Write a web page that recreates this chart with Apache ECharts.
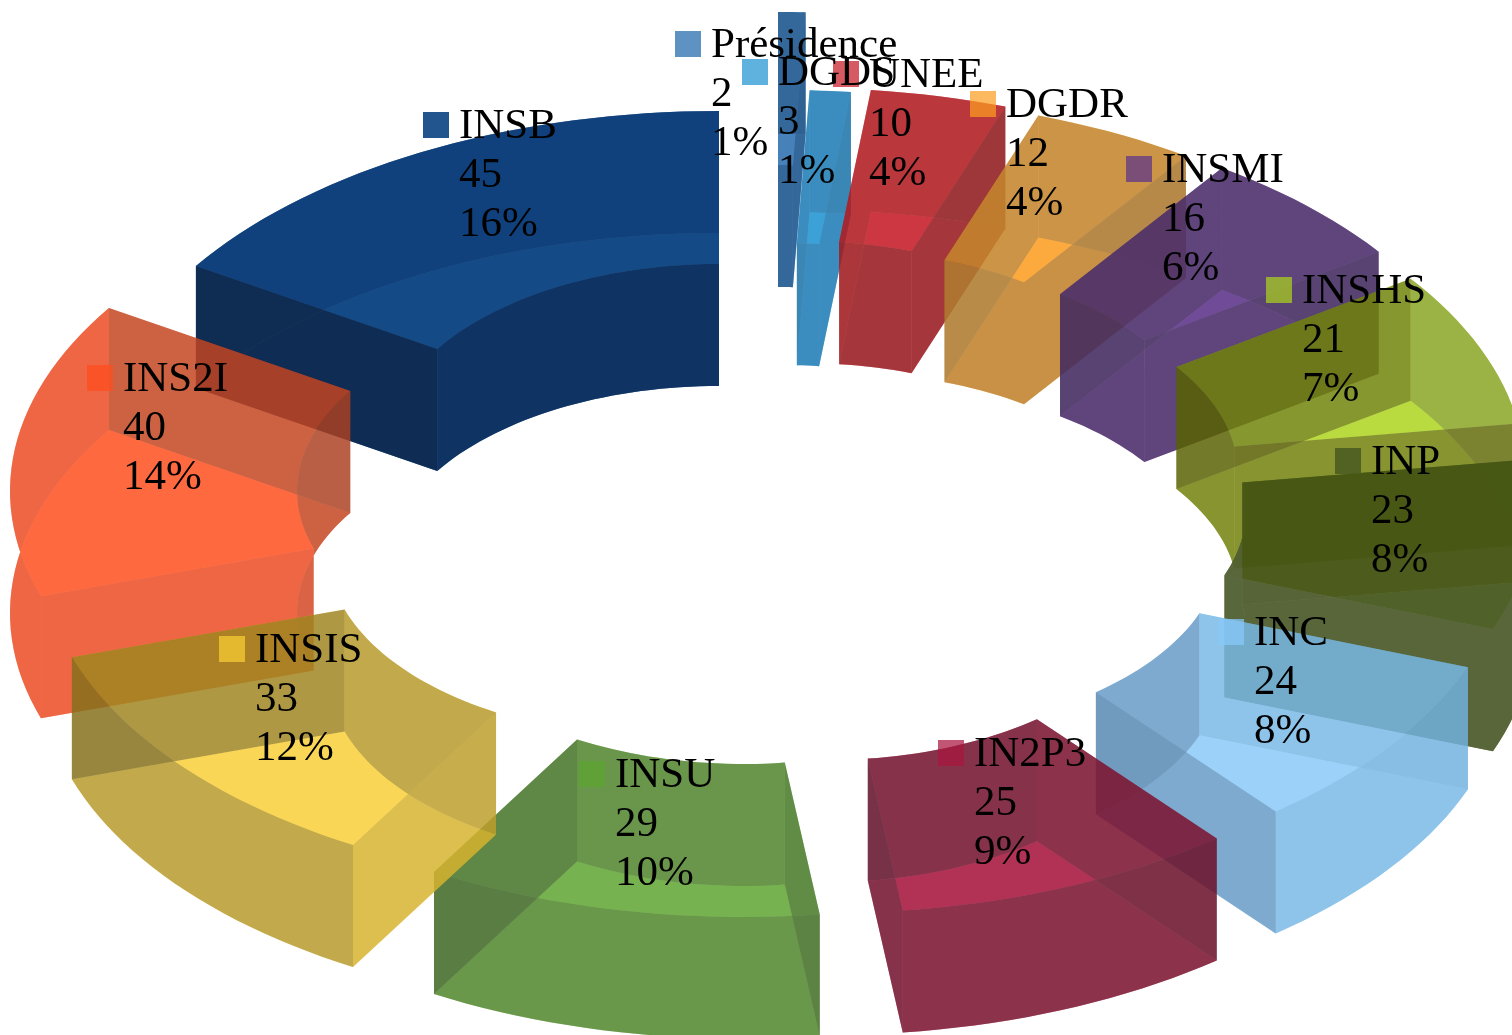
<!DOCTYPE html>
<html><head><meta charset="utf-8">
<style>html,body{margin:0;padding:0;background:#fff}#c{width:1512px;height:1035px}</style>
<script src="https://cdn.jsdelivr.net/npm/echarts@6/dist/echarts.min.js"></script>
</head><body><div id="c"></div>
<script>
const categories = ['Présidence','DGDS','UNEE','DGDR','INSMI','INSHS','INP','INC','IN2P3','INSU','INSIS','INS2I','INSB'];
const values = [2,3,10,12,16,21,23,24,25,29,33,40,45];

// appearance of each slice
const brightColors = [[70,130,185],[60,160,215],[205,55,65],[252,170,62],[112,76,152],[185,218,65],[80,98,42],[155,210,250],[178,50,85],[117,178,80],[250,215,85],[255,105,65],[20,75,135]];
const innerColors = [[52,104,155],[58,140,190],[165,55,60],[200,145,70],[95,70,125],[135,148,35],[88,102,58],[125,170,208],[135,50,75],[105,150,75],[195,170,75],[205,98,68],[15,52,98]];
const outerColors = [[52,104,155],[58,140,190],[186,55,60],[203,148,70],[95,70,125],[155,178,70],[88,102,58],[142,195,235],[140,50,75],[105,152,75],[195,170,75],[238,102,68],[17,66,125]];
const startColors = [[52,104,155],[58,140,190],[186,55,60],[203,148,70],[95,70,125],[135,150,40],[77,92,28],[142,195,235],[140,50,75],[97,140,70],[222,192,80],[238,102,68],[15,45,85]];
const endColors = [[52,104,155],[58,140,190],[165,55,60],[200,145,70],[95,70,125],[135,148,35],[88,102,58],[125,170,208],[135,50,75],[95,135,70],[175,153,68],[205,98,68],[15,52,98]];
const alphas = [.75,.65,.65,.65,.65,.6,.8,.6,.65,.6,.6,.6,.85];
const explodeX = [7,11,31,64,100,132,140,115,56,-27,-108,-139,-52];
const explodeY = [-158,-80,-82,-73,-61,-34,2,40,67,71,44,-17,-59];
const drawRank = [0,1,2,3,4,5,6,7,8,3,4,2,0];
const labelLeft = [711,778,869,1006,1162,1302,1371,1254,974,615,255,123,459];
const labelTop = [21,49,51,81,146,267,438,609,730,751,626,355,102];

const W = 1512, H = 1035;
const CX = 771, CY = 508, RX = [335,622], RY = [185,338], HT = 122;
const total = values.reduce((a,b)=>a+b,0);
const starts = []; values.reduce((acc,v,i)=>{starts[i]=acc;return acc+v;},0);

function solve(b,m,a){
  const cap = b.map(v=>Math.max(0,Math.min(255,(v-255*(1-a)*(1-a))/(1-(1-a)*(1-a)))));
  const single = cap.map(v=>a*v+(1-a)*255);
  const wall = m.map((v,i)=>Math.max(0,Math.min(255,(v-(1-a)*single[i])/a)));
  return {cap,wall};
}
const rgba=(c,a)=>`rgba(${c.map(v=>Math.round(Math.min(255,v))).join(',')},${a})`;

function renderSlice(params, api){
  const i = params.dataIndex;
  const v = api.value(0), s = api.value(1);
  const a0 = s/total*2*Math.PI, a1 = (s+v)/total*2*Math.PI;
  const ox = CX + explodeX[i], oy = CY + explodeY[i];
  const pt=(r,t,h)=>[ox+RX[r]*Math.sin(t), oy-RY[r]*Math.cos(t)+(h||0)];
  const n = Math.max(4,Math.ceil((a1-a0)/0.03));
  const arc=(r,h,rev)=>{const o=[];for(let j=0;j<=n;j++){const t=a0+(a1-a0)*j/n;o.push(pt(r,t,h));}return rev?o.reverse():o;};
  const a = alphas[i];
  const b = brightColors[i];
  const face = list => rgba(solve(b,list[i],a).wall,a);
  const capC = rgba(solve(b,innerColors[i],a).cap,a);
  const faces=[
    [arc(1,HT).concat(arc(0,HT,true)),capC],
    [arc(1,0).concat(arc(0,0,true)),capC],
    [arc(0,0).concat(arc(0,HT,true)),face(innerColors)],
    [arc(1,0).concat(arc(1,HT,true)),face(outerColors)],
    [[pt(0,a0),pt(1,a0),pt(1,a0,HT),pt(0,a0,HT)],face(startColors)],
    [[pt(0,a1),pt(1,a1),pt(1,a1,HT),pt(0,a1,HT)],face(endColors)]
  ];
  return {type:'group',children:faces.map((f,k)=>({
    type:'polygon',z2:drawRank[i]*10+k,shape:{points:f[0]},style:{fill:f[1],stroke:null}
  }))};
}
function renderLabel(params, api){
  const i = params.dataIndex, v = api.value(0);
  const x = labelLeft[i], y = labelTop[i];
  const {cap} = solve(brightColors[i],innerColors[i],alphas[i]);
  return {type:'group',children:[
    {type:'rect',z2:1,shape:{x:x-36,y:y+10,width:26,height:26},style:{fill:rgba(cap,Math.max(.72,alphas[i]+.07))}},
    {type:'text',z2:2,style:{x:x,y:y,text:[categories[i],v,Math.round(v/total*100)+'%'].join('\n'),
      font:'43px "Liberation Serif"',lineHeight:49,fill:'#000',textAlign:'left',textVerticalAlign:'top'}}
  ]};
}
const chart = echarts.init(document.getElementById('c'),null,{renderer:'canvas',width:W,height:H});
const rows = values.map((v,i)=>[v,starts[i],categories[i]]);
chart.setOption({
  animation:false,backgroundColor:'#fff',
  series:[
    {type:'custom',coordinateSystem:'none',z:1,clip:false,silent:true,renderItem:renderSlice,data:rows},
    {type:'custom',coordinateSystem:'none',z:2,clip:false,silent:true,renderItem:renderLabel,data:rows}
  ]
});
</script></body></html>
